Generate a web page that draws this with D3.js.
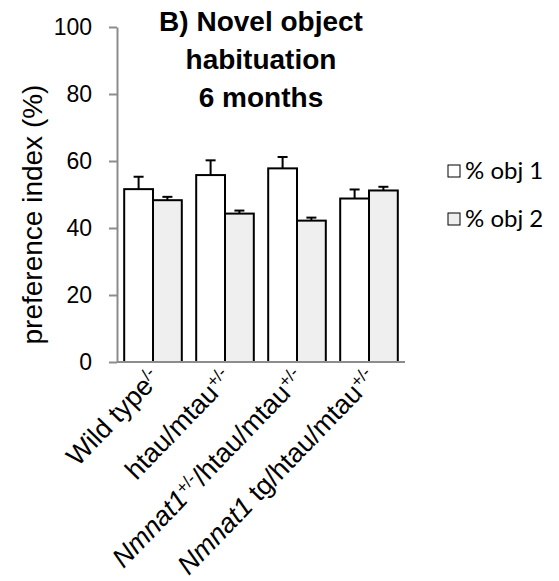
<!DOCTYPE html>
<html>
<head>
<meta charset="utf-8">
<script src="https://cdn.jsdelivr.net/npm/d3@7"></script>
<style>
  html, body { margin: 0; padding: 0; background: #fff; }
  svg { display: block; }
</style>
</head>
<body>
<svg id="chart" width="559" height="581"></svg>
<script>
// ---- data ----
const categories = ["Wild type", "htau/mtau", "Nmnat1+/-/htau/mtau", "Nmnat1 tg/htau/mtau"];
const obj1Values = [51.6, 55.8, 57.8, 48.8];
const obj1Errors = [3.7, 4.4, 3.4, 2.7];
const obj2Values = [48.3, 44.3, 42.2, 51.2];
const obj2Errors = [1.0, 0.9, 0.9, 1.1];
const seriesNames = ["% obj 1", "% obj 2"];
const yTicks = [0, 20, 40, 60, 80, 100];
const titleLines = ["B) Novel object", "habituation", "6 months"];
const yLabel = "preference index (%)";
// label parts: [text, style] style: n normal, i italic, s superscript
const xLabelParts = [
  [["Wild type", "n"], ["/-", "s"]],
  [["htau/mtau", "n"], ["+/-", "s"]],
  [["Nmnat1", "i"], ["+/-", "s"], ["/htau/mtau", "n"], ["+/-", "s"]],
  [["Nmnat1", "i"], [" tg/htau/mtau", "n"], ["+/-", "s"]]
];

(function () {
const svg = d3.select("#chart");
const mLeft = 117, mRight = 405, mTop = 27, mBottom = 362;
const axisColor = "#8c8c8c";
const fills = ["#ffffff", "#efefef"];
const baseFont = "'Liberation Sans', Arial, sans-serif";

const y = d3.scaleLinear().domain([0, 100]).range([mBottom, mTop]);
const x0 = d3.scaleBand().domain(categories).range([mLeft, mRight]).paddingInner(0.2).paddingOuter(0.1);
const x1 = d3.scaleBand().domain([0, 1]).range([0, x0.bandwidth()]);

// y axis
const yAxis = svg.append("g").attr("transform", `translate(${mLeft},0)`)
  .call(d3.axisLeft(y).tickValues(yTicks).tickSize(8).tickSizeOuter(0).tickPadding(17));
yAxis.select(".domain").attr("stroke", axisColor).attr("stroke-width", 2);
yAxis.selectAll(".tick line").attr("stroke", axisColor).attr("stroke-width", 2);
yAxis.selectAll(".tick text").attr("font-family", baseFont).attr("font-size", 23).attr("fill", "#000");

// bars
const series = [
  { vals: obj1Values, errs: obj1Errors },
  { vals: obj2Values, errs: obj2Errors }
];
series.forEach((s, si) => {
  const g = svg.append("g");
  categories.forEach((c, ci) => {
    const bx = x0(c) + x1(si);
    const bw = x1.bandwidth();
    const v = s.vals[ci], e = s.errs[ci];
    const cx = bx + bw / 2;
    g.append("line").attr("x1", cx).attr("x2", cx).attr("y1", y(v)).attr("y2", y(v + e))
      .attr("stroke", "#000").attr("stroke-width", 2);
    g.append("line").attr("x1", cx - 5).attr("x2", cx + 5).attr("y1", y(v + e)).attr("y2", y(v + e))
      .attr("stroke", "#000").attr("stroke-width", 2);
    g.append("rect").attr("x", bx).attr("y", y(v)).attr("width", bw).attr("height", y(0) - y(v))
      .attr("fill", fills[si]).attr("stroke", "#000").attr("stroke-width", 2);
  });
});

// baseline (x axis)
svg.append("line").attr("x1", mLeft).attr("x2", mRight).attr("y1", y(0)).attr("y2", y(0))
  .attr("stroke", axisColor).attr("stroke-width", 2);

// x labels
categories.forEach((c, ci) => {
  const cx = x0(c) + x0.bandwidth() / 2;
  const t = svg.append("text")
    .attr("transform", `translate(${cx + 9},${mBottom + 18}) rotate(-46)`)
    .attr("text-anchor", "end")
    .attr("font-family", baseFont).attr("font-size", 27).attr("fill", "#000");
  xLabelParts[ci].forEach(([txt, st]) => {
    const ts = t.append("tspan").text(txt);
    if (st === "i") ts.attr("font-style", "italic");
    if (st === "s") ts.attr("font-size", 17).attr("baseline-shift", "super");
  });
});

// y label
svg.append("text")
  .attr("transform", `translate(42,${(mTop + mBottom) / 2 + 20}) rotate(-90)`)
  .attr("text-anchor", "middle")
  .attr("font-family", baseFont).attr("font-size", 28).attr("fill", "#000")
  .text(yLabel);

// title
const title = svg.append("text").attr("text-anchor", "middle")
  .attr("font-family", baseFont).attr("font-size", 28).attr("font-weight", "bold").attr("fill", "#000");
titleLines.forEach((l, i) => {
  title.append("tspan").attr("x", 261).attr("y", 31 + i * 38).text(l);
});

// legend
const legend = svg.append("g");
seriesNames.forEach((n, i) => {
  const ly = 171 + i * 48;
  legend.append("rect").attr("x", 448).attr("y", ly - 6).attr("width", 12).attr("height", 12)
    .attr("fill", fills[i]).attr("stroke", "#000").attr("stroke-width", 1);
  legend.append("text").attr("x", 465).attr("y", ly + 8)
    .attr("font-family", "Lato, 'Open Sans', sans-serif").attr("font-size", 24).attr("fill", "#000")
    .text(n);
});
})();
</script>
</body>
</html>
